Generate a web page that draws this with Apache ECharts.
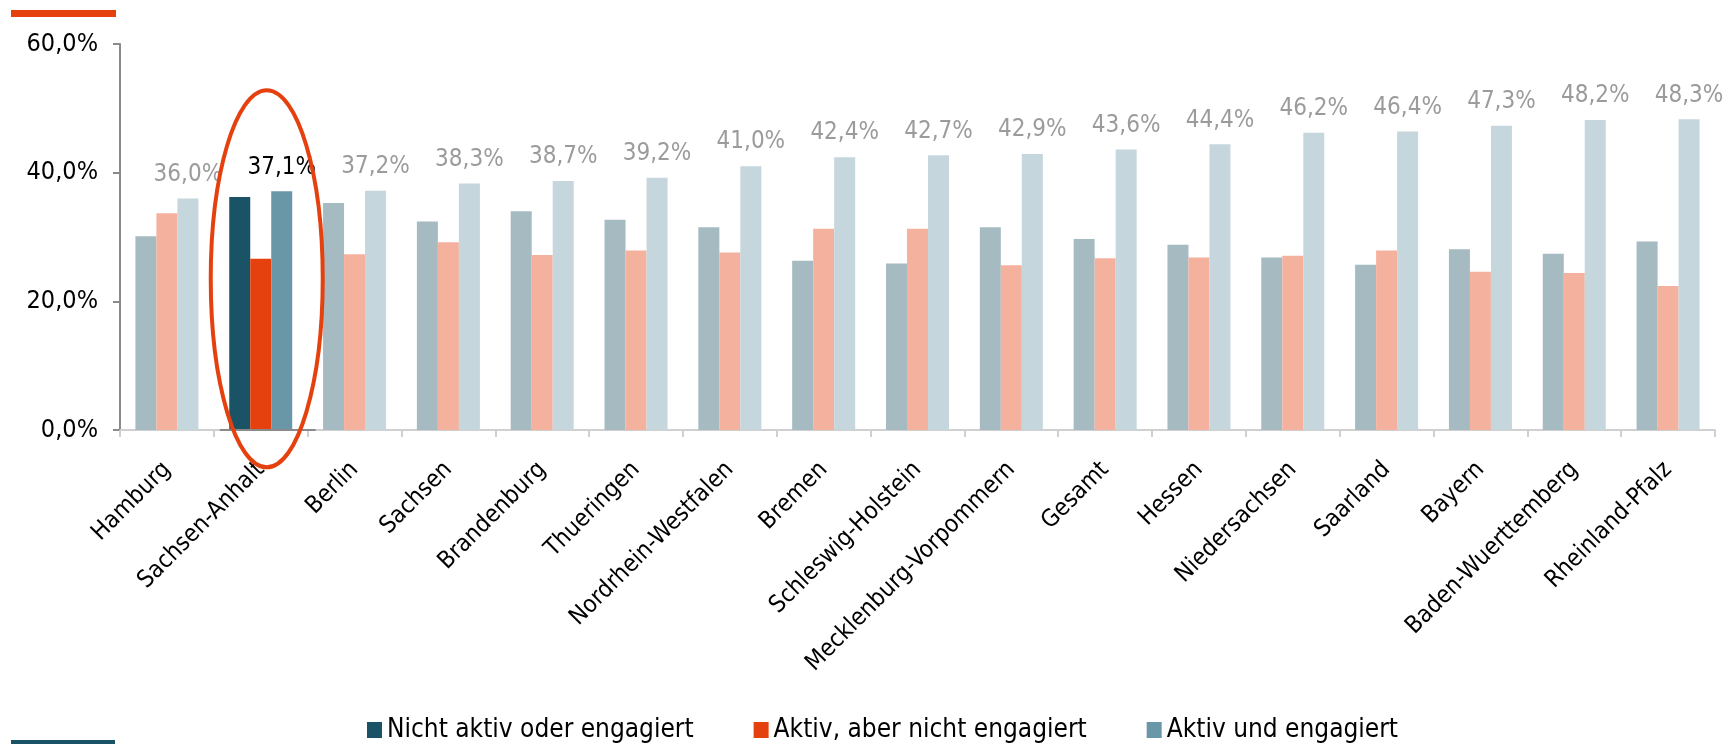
<!DOCTYPE html>
<html>
<head>
<meta charset="utf-8">
<script src="https://cdn.jsdelivr.net/npm/echarts@6/dist/echarts.min.js"></script>
<style>
  html, body { margin: 0; padding: 0; background: #ffffff; }
  #chart { width: 1732px; height: 744px; }
</style>
</head>
<body>
<div id="chart"></div>
<script>
// Federal states (plus overall value), ordered by share of "active and engaged"
const categories = ['Hamburg', 'Sachsen-Anhalt', 'Berlin', 'Sachsen', 'Brandenburg', 'Thueringen',
  'Nordrhein-Westfalen', 'Bremen', 'Schleswig-Holstein', 'Mecklenburg-Vorpommern', 'Gesamt',
  'Hessen', 'Niedersachsen', 'Saarland', 'Bayern', 'Baden-Wuerttemberg', 'Rheinland-Pfalz'];

const seriesNames = ['Nicht aktiv oder engagiert', 'Aktiv, aber nicht engagiert', 'Aktiv und engagiert'];

const nichtAktiv = [30.1, 36.2, 35.3, 32.4, 34.0, 32.7, 31.5, 26.3, 25.9, 31.5, 29.7, 28.8, 26.8, 25.7, 28.1, 27.4, 29.3];
const aktivNichtEngagiert = [33.7, 26.6, 27.3, 29.2, 27.2, 27.9, 27.6, 31.3, 31.3, 25.6, 26.7, 26.8, 27.1, 27.9, 24.6, 24.4, 22.4];
const aktivEngagiert = [36.0, 37.1, 37.2, 38.3, 38.7, 39.2, 41.0, 42.4, 42.7, 42.9, 43.6, 44.4, 46.2, 46.4, 47.3, 48.2, 48.3];

const yMin = 0, yMax = 60, yStep = 20;
const highlighted = 'Sachsen-Anhalt';

const strongColors = ['#1b5366', '#e5410f', '#6a97a8'];
const fadedColors = ['#a5bac1', '#f4b19e', '#c5d6dd'];
const FONT = "'DejaVu Sans Condensed', 'DejaVu Sans', sans-serif";

const fmt = v => v.toFixed(1).replace('.', ',') + '%';

function buildSeries(values, idx, withLabel) {
  return {
    name: seriesNames[idx],
    type: 'bar',
    barWidth: 21,
    barGap: '0%',
    color: strongColors[idx],
    animation: false,
    data: values.map((v, i) => {
      const hi = categories[i] === highlighted;
      const item = { value: v, itemStyle: { color: hi ? strongColors[idx] : fadedColors[idx] } };
      if (withLabel && hi) item.label = { color: '#000000' };
      return item;
    }),
    label: withLabel ? {
      show: true,
      position: 'top',
      distance: 12,
      color: '#9b9b9b',
      fontFamily: FONT,
      fontSize: 24,
      formatter: p => fmt(p.value)
    } : { show: false }
  };
}

const chart = echarts.init(document.getElementById('chart'), null, { renderer: 'canvas' });

chart.setOption({
  backgroundColor: '#ffffff',
  animation: false,
  grid: { left: 120, right: 17, top: 44, bottom: 314, containLabel: false },
  legend: {
    left: 367,
    top: 717,
    padding: 0,
    itemWidth: 15,
    itemHeight: 16,
    itemGap: 60,
    icon: 'rect',
    textStyle: { fontFamily: FONT, fontSize: 26, color: '#000000' },
    data: seriesNames
  },
  xAxis: {
    type: 'category',
    data: categories,
    axisLine: { lineStyle: { color: '#d0d0d0', width: 2 } },
    axisTick: { show: true, length: 7, lineStyle: { color: '#d0d0d0', width: 2 } },
    axisLabel: {
      interval: 0,
      rotate: 45,
      margin: 36,
      fontFamily: FONT,
      fontSize: 24,
      color: '#000000'
    }
  },
  yAxis: {
    type: 'value',
    min: yMin,
    max: yMax,
    interval: yStep,
    splitLine: { show: false },
    axisLine: { show: true, lineStyle: { color: '#8a8a8a', width: 2 } },
    axisTick: { show: true, length: 7, lineStyle: { color: '#8a8a8a', width: 2 } },
    axisLabel: {
      margin: 22,
      fontFamily: FONT,
      fontSize: 25,
      color: '#000000',
      formatter: v => v.toFixed(1).replace('.', ',') + '%'
    }
  },
  series: [
    buildSeries(nichtAktiv, 0, false),
    buildSeries(aktivNichtEngagiert, 1, false),
    buildSeries(aktivEngagiert, 2, true)
  ]
});

// Decorations: accent bars, darker axis segment and the ring around the highlighted state
const hiIndex = categories.indexOf(highlighted);
const centerPt = chart.convertToPixel({ xAxisIndex: 0, yAxisIndex: 0 }, [highlighted, 23.5]);
const topPt = chart.convertToPixel({ xAxisIndex: 0, yAxisIndex: 0 }, [highlighted, 52.8]);
const nextX = chart.convertToPixel({ xAxisIndex: 0 }, categories[hiIndex + 1]);
const band = nextX - centerPt[0];
const zeroY = chart.convertToPixel({ yAxisIndex: 0 }, 0);

chart.setOption({
  graphic: [
    { type: 'rect', left: 11, top: 10, shape: { width: 105, height: 7 }, style: { fill: '#e5410f' }, silent: true },
    { type: 'rect', left: 11, top: 740, shape: { width: 104, height: 4 }, style: { fill: '#1b5366' }, silent: true },
    {
      type: 'line',
      shape: { x1: centerPt[0] - band / 2 + 6, y1: zeroY, x2: centerPt[0] + band / 2 + 8, y2: zeroY },
      style: { stroke: '#8a8a8a', lineWidth: 2 },
      z: 50,
      silent: true
    },
    {
      type: 'ellipse',
      shape: { cx: centerPt[0] + 6, cy: centerPt[1], rx: 56, ry: centerPt[1] - topPt[1] },
      style: { fill: 'none', stroke: '#e5410f', lineWidth: 4 },
      z: 100,
      silent: true
    }
  ]
});
</script>
</body>
</html>
